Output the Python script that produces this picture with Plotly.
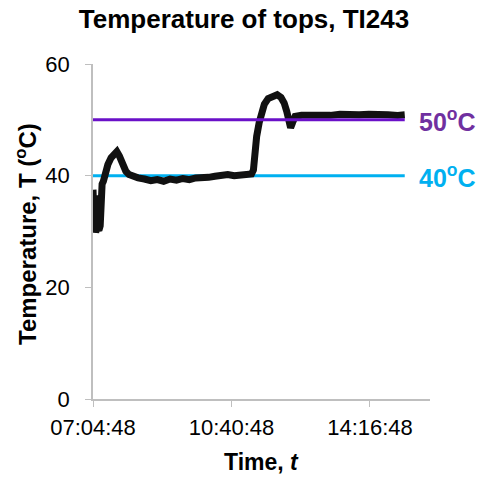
import pandas as pd
import plotly.graph_objects as go

# ---- data ----
times = ["07:04:48", "07:05:30", "07:06:10", "07:07:00", "07:08:00", "07:09:00", "07:10:00",
         "07:11:00", "07:12:00", "07:14:00", "07:16:00", "07:17:00", "07:19:00", "07:21:00",
         "07:24:00", "07:28:00", "07:33:00", "07:38:00", "07:42:00", "07:46:00", "07:51:00",
         "07:56:00", "08:01:00", "08:08:00", "08:15:00", "08:25:00", "08:35:00", "08:45:00",
         "08:55:00", "09:05:00", "09:15:00", "09:25:00", "09:35:00", "09:45:00", "09:55:00",
         "10:05:00", "10:15:00", "10:25:00", "10:35:00", "10:45:00", "10:55:00", "11:05:00",
         "11:12:00", "11:15:00", "11:17:00", "11:20:00", "11:24:00", "11:28:00", "11:32:00",
         "11:38:00", "11:45:00", "11:52:00", "11:58:00", "12:03:00", "12:07:00", "12:10:00",
         "12:13:00", "12:16:00", "12:20:00", "12:30:00", "12:45:00", "13:00:00", "13:15:00",
         "13:30:00", "13:45:00", "14:00:00", "14:15:00", "14:30:00", "14:45:00", "15:00:00",
         "15:11:00"]
temps = [37.5, 31.0, 37.0, 30.0, 36.5, 29.8, 35.0,
         31.0, 30.5, 30.2, 31.0, 37.0, 38.5, 39.0,
         40.5, 42.0, 43.2, 44.0, 44.3, 43.5, 42.0,
         40.8, 40.2, 39.8, 39.6, 39.4, 39.1, 39.3,
         39.0, 39.4, 39.2, 39.5, 39.3, 39.6, 39.5,
         39.7, 39.9, 40.1, 40.2, 40.0, 40.2, 40.1,
         40.3, 41.0, 44.0, 47.0, 49.5, 51.3, 52.8,
         53.8, 54.3, 54.5, 54.0, 53.0, 51.5, 50.0,
         48.6, 49.5, 50.6, 50.8, 50.7, 50.9, 50.8,
         51.0, 50.8, 50.9, 51.0, 50.8, 50.9, 50.8,
         50.9]
ref_times = ["07:04:48", "15:11:00"]
ref_50 = [50, 50]
ref_40 = [40, 40]
x_ticks = ["07:04:48", "10:40:48", "14:16:48"]
x_range = ["07:04:48", "15:50:24"]
y_ticks = [0, 20, 40, 60]

DAY = "2020-01-01 "
def ts(lst):
    return pd.to_datetime([DAY + t for t in lst])

FONT = "Liberation Sans, Arial"
W, H = 488, 479
L, R, T, B = 93, 58, 64, 80

fig = go.Figure()
fig.add_trace(go.Scatter(x=ts(ref_times), y=ref_40, mode="lines",
                         line=dict(color="#00B0F0", width=3), showlegend=False))
fig.add_trace(go.Scatter(x=ts(times), y=temps, mode="lines",
                         line=dict(color="#111111", width=7), showlegend=False))
fig.add_trace(go.Scatter(x=ts(ref_times), y=ref_50, mode="lines",
                         line=dict(color="#6A10C8", width=3), showlegend=False))

fig.add_annotation(x=ts(ref_times)[1], y=50, xref="x", yref="y", text="<b>50<sup>o</sup>C</b>",
                   showarrow=False, xanchor="left", xshift=12,
                   font=dict(family=FONT, size=25, color="#7030A0"))
fig.add_annotation(x=ts(ref_times)[1], y=40, xref="x", yref="y", text="<b>40<sup>o</sup>C</b>",
                   showarrow=False, xanchor="left", xshift=12,
                   font=dict(family=FONT, size=25, color="#00B0F0"))

# axis titles as paper annotations
pw, ph = W - L - R, H - T - B
fig.add_annotation(x=0.5, y=-(462 - (H - B)) / ph, xref="paper", yref="paper",
                   text="<b>Time, <i>t</i></b>", showarrow=False,
                   xanchor="center", yanchor="middle",
                   font=dict(family=FONT, size=23, color="#000000"))
fig.add_annotation(x=-(L - 26) / pw, y=((H - B) - 234) / ph, xref="paper", yref="paper",
                   text="<b>Temperature, T (<sup>o</sup>C)</b>", showarrow=False, textangle=-90,
                   xanchor="center", yanchor="middle",
                   font=dict(family=FONT, size=24, color="#000000"))

fig.update_layout(
    width=W, height=H,
    margin=dict(l=L, r=R, t=T, b=B),
    paper_bgcolor="white", plot_bgcolor="white",
    font=dict(family=FONT, size=22, color="#000000"),
    title=dict(text="<b>Temperature of tops, TI243</b>", x=0.5, xanchor="center",
               y=1 - 18.5 / H, yanchor="middle", font=dict(size=26)),
)
fig.update_xaxes(
    type="date", range=list(ts(x_range)), tickvals=list(ts(x_ticks)),
    tickformat="%H:%M:%S", showgrid=False, zeroline=False,
    showline=True, linecolor="#BFBFBF", linewidth=1.5,
    ticks="outside", tickcolor="#BFBFBF", ticklen=6, ticklabelstandoff=2,
    tickfont=dict(size=22),
)
fig.update_yaxes(
    range=[0, 60], tickvals=y_ticks, showgrid=False, zeroline=False,
    showline=True, linecolor="#BFBFBF", linewidth=1.5,
    ticks="outside", tickcolor="#BFBFBF", ticklen=6, ticklabelstandoff=11,
    tickfont=dict(size=22),
)

fig.write_html("out.html")
